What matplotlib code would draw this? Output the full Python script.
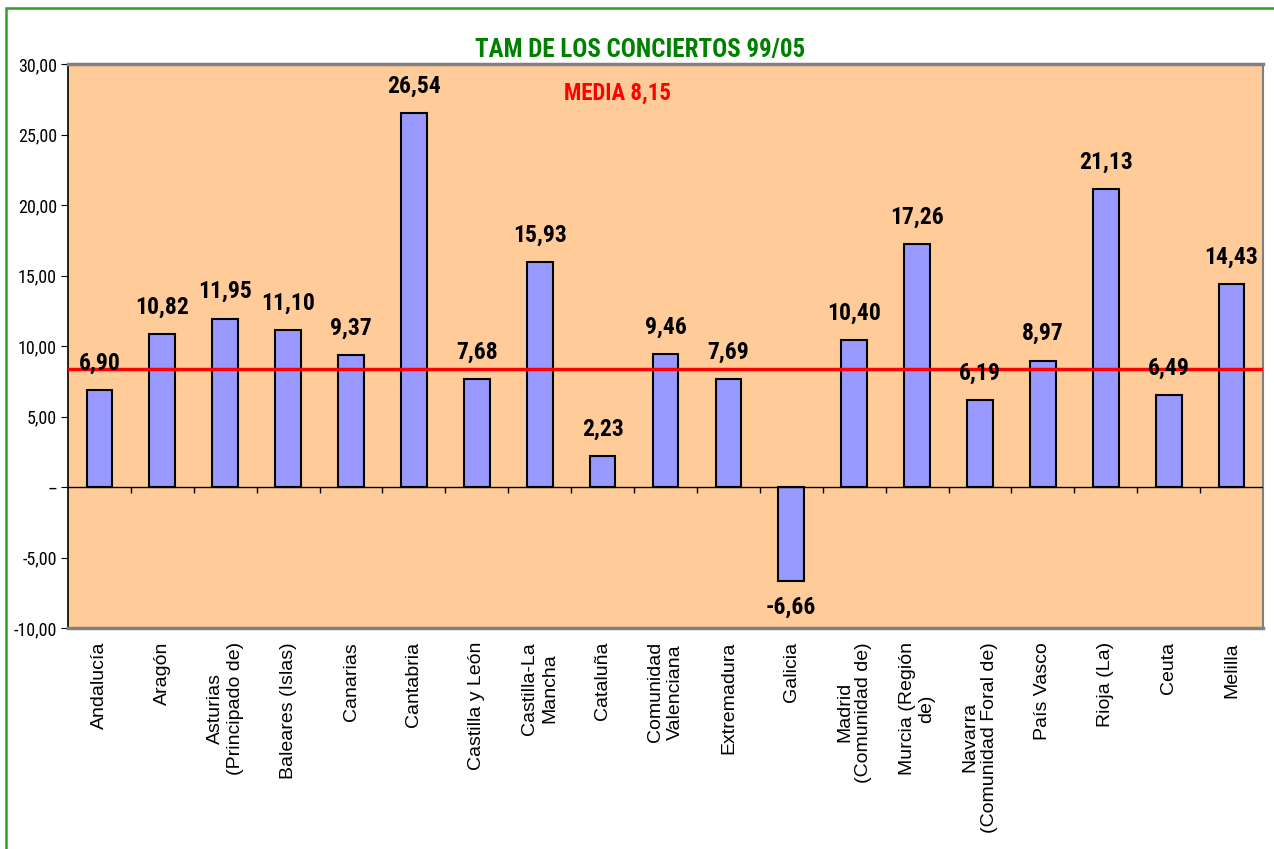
import os
import matplotlib.pyplot as plt
from matplotlib import font_manager
from matplotlib.patches import Rectangle
import numpy as np

regiones = ['Andalucía', 'Aragón', 'Asturias\n(Principado de)', 'Baleares (Islas)',
            'Canarias', 'Cantabria', 'Castilla y León', 'Castilla-La\nMancha',
            'Cataluña', 'Comunidad\nValenciana', 'Extremadura', 'Galicia',
            'Madrid\n(Comunidad de)', 'Murcia (Región\nde)', 'Navarra\n(Comunidad Foral de)',
            'País Vasco', 'Rioja (La)', 'Ceuta', 'Melilla']
tam = [6.90, 10.82, 11.95, 11.10, 9.37, 26.54, 7.68, 15.93, 2.23, 9.46,
       7.69, -6.66, 10.40, 17.26, 6.19, 8.97, 21.13, 6.49, 14.43]
media = 8.15
media_linea = 8.4  # la linea roja esta dibujada algo por encima del valor
yticks = [-10, -5, 0, 5, 10, 15, 20, 25, 30]

plt.rcParams['font.family'] = ['Liberation Sans', 'DejaVu Sans']


def peso(f):
    w = f.weight
    if isinstance(w, str):
        w = {'bold': 700, 'semibold': 600, 'demibold': 600, 'heavy': 800,
             'black': 900, 'extra bold': 800}.get(w.lower(), 400)
    return w


def fuente_estrecha(negrita):
    # busca una fuente condensada tipo Arial Narrow
    orden = ['Liberation Sans Narrow', 'Arial Narrow', 'Roboto Condensed', 'Noto Sans',
             'Open Sans', 'DejaVu Sans']
    mejores = []
    for f in font_manager.fontManager.ttflist:
        n = f.name + ' ' + os.path.basename(f.fname)
        estrecha = ('Narrow' in n or 'Condensed' in n or
                    str(f.stretch) in ('condensed', 'semi-condensed', 'extra-condensed'))
        if not estrecha or 'Mono' in n or 'Serif' in n or 'Italic' in n or 'Oblique' in n:
            continue
        if 'Semi' in n or 'Extra' in n or 'Light' in n or 'Thin' in n or 'Medium' in n:
            continue
        if (peso(f) >= 600) != negrita:
            continue
        rango = len(orden)
        for i, o in enumerate(orden):
            if f.name.startswith(o):
                rango = i
                break
        mejores.append((rango, f.fname))
    if mejores:
        mejores.sort()
        return font_manager.FontProperties(fname=mejores[0][1])
    return font_manager.FontProperties(family='Liberation Sans',
                                       weight='bold' if negrita else 'normal')


fb = fuente_estrecha(True)
fn = fuente_estrecha(False)


def fmt(v):
    return f"{v:.2f}".replace('.', ',')


fig = plt.figure(figsize=(12.74, 8.49), dpi=100)
ax = fig.add_axes([68 / 1274, 1 - 628 / 849, 1195 / 1274, 564 / 849])
ax.set_facecolor('#FFCC99')

x = np.arange(len(tam))
ax.bar(x, tam, width=0.41, color='#9999FF', edgecolor='black', linewidth=1.5, zorder=3)
ax.set_xlim(-0.5, len(tam) - 0.5)
ax.set_ylim(-10, 30)

for xi, v in zip(x, tam):
    if v >= 0:
        ax.annotate(fmt(v), (xi, v), xytext=(0, 11), textcoords='offset points',
                    ha='center', va='bottom', fontproperties=fb, fontsize=17, zorder=5)
    else:
        ax.annotate(fmt(v), (xi, v), xytext=(0, -11), textcoords='offset points',
                    ha='center', va='top', fontproperties=fb, fontsize=17, zorder=5)

# linea de cero con marcas entre categorias
ax.axhline(0, color='black', lw=1, zorder=4)
bordes = np.arange(len(tam) + 1) - 0.5
ax.vlines(bordes[1:-1], -0.4, 0, color='black', lw=1, zorder=4)

ax.axhline(media_linea, color='red', lw=2.5, zorder=4)
ax.text(617 / 1274, 1 - 93 / 849, 'MEDIA ' + fmt(media), transform=fig.transFigure,
        color='red', fontproperties=fb, fontsize=16.5, ha='center', va='center')

ax.set_yticks(yticks)
ax.set_yticklabels(['--' if t == 0 else fmt(t) for t in yticks], fontproperties=fn, fontsize=13)
ax.set_xticks(x)
ax.set_xticklabels(regiones, rotation=90, ha='center', va='top', fontsize=14,
                   multialignment='center')
ax.tick_params(axis='x', length=0, pad=10)
ax.tick_params(axis='y', length=5, direction='out', pad=3)

for s in ['top', 'bottom', 'right']:
    ax.spines[s].set_color('#808080')
ax.spines['top'].set_linewidth(2.5)
ax.spines['bottom'].set_linewidth(2.5)
ax.spines['right'].set_linewidth(1.5)
ax.spines['left'].set_color('black')
ax.spines['left'].set_linewidth(1.2)

fig.text(640 / 1274, 1 - 50 / 849, 'TAM DE LOS CONCIERTOS 99/05', color='#008000',
         fontproperties=fb, fontsize=18, ha='center', va='center')

fig.add_artist(Rectangle((6 / 1274, -0.05), 1.2, 1.05 - 8 / 849, transform=fig.transFigure,
                         fill=False, edgecolor='#2E9E2E', lw=1.8))

fig.savefig('out.png', dpi=100)
